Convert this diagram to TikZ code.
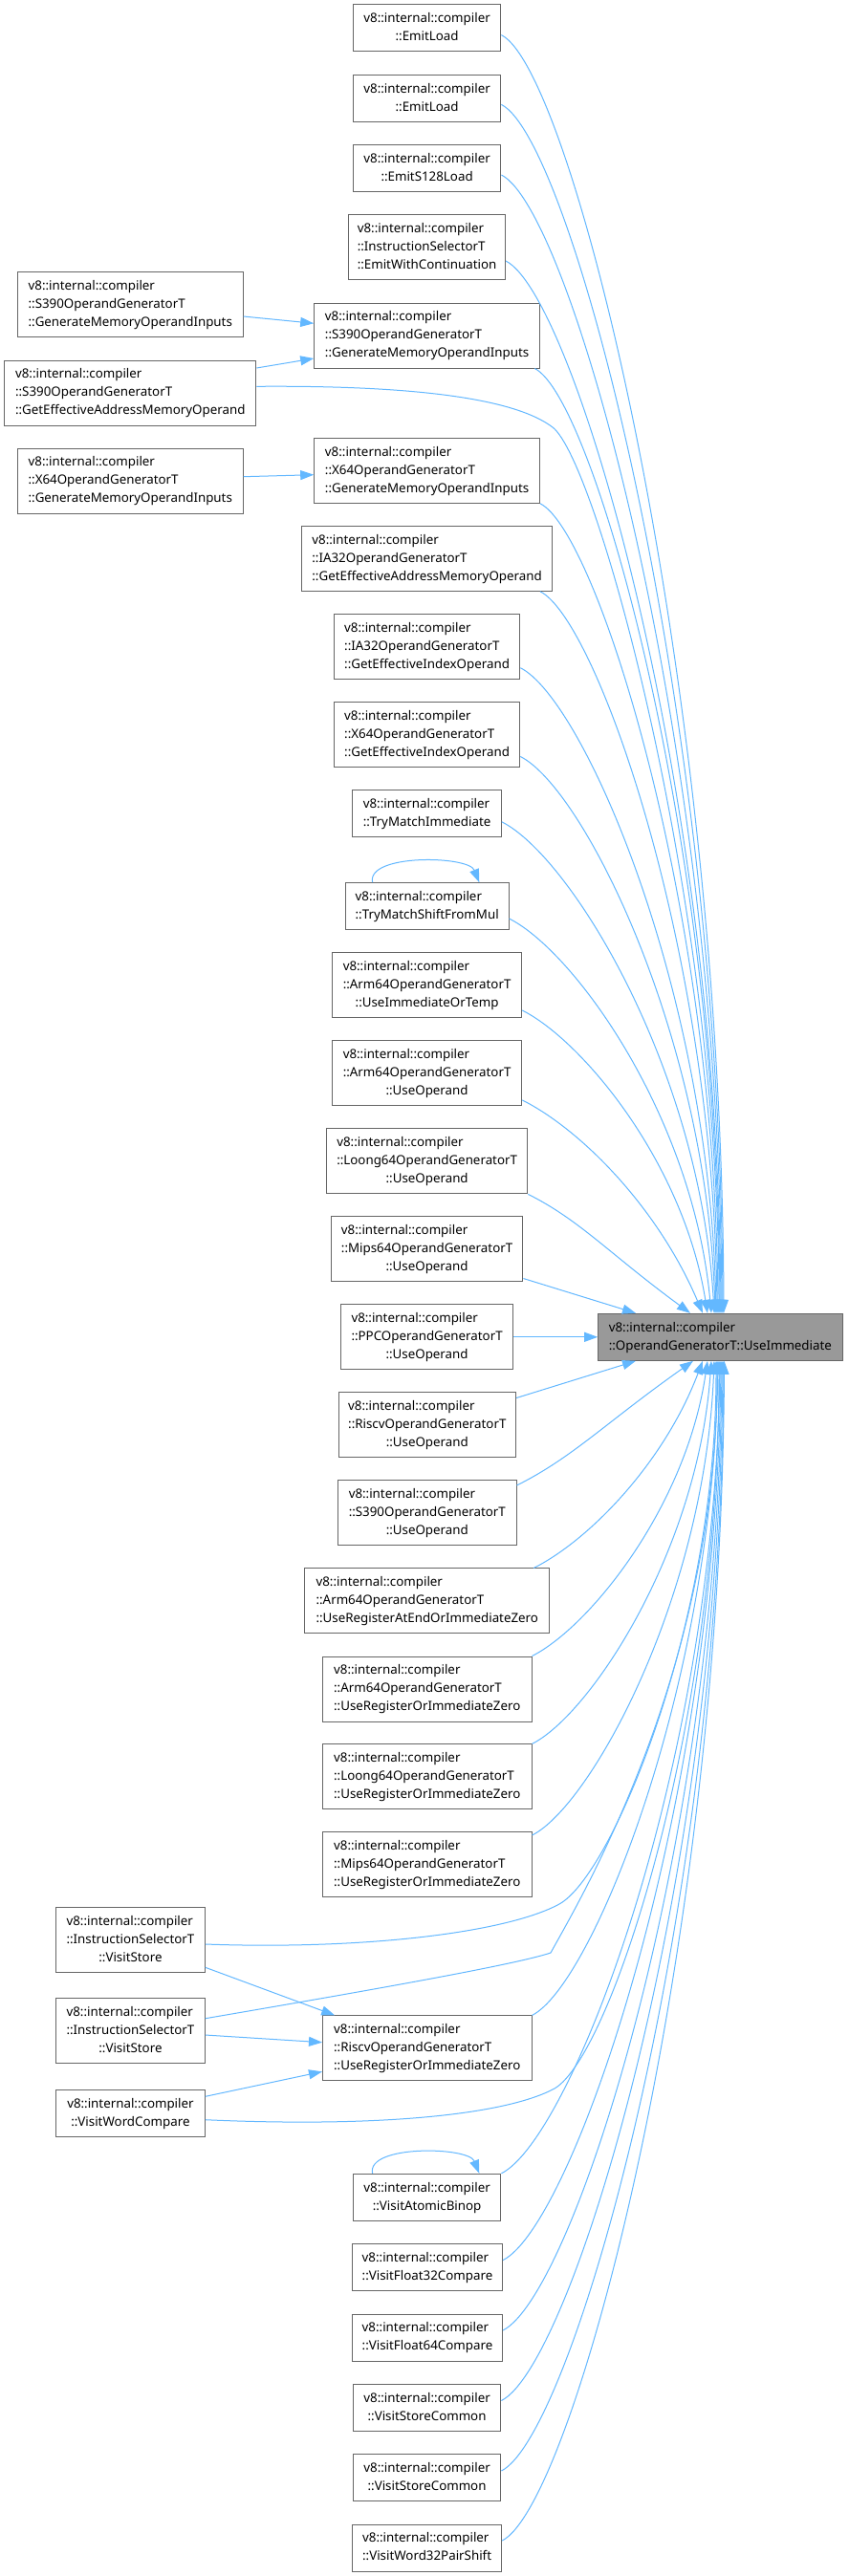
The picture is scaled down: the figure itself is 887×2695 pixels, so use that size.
\documentclass[tikz,border=0pt]{standalone}
\usepackage{fontspec}
\setmainfont{Noto Sans}
\usetikzlibrary{arrows.meta,calc}
\definecolor{boxline}{HTML}{666666}
\definecolor{mainfill}{HTML}{999999}
\definecolor{edgeblue}{HTML}{63B8FF}
\newcommand\lc[1]{\multicolumn{1}{@{}c@{}}{#1}}
\newcommand\lt[1]{\begin{tabular}{@{}l@{}}v8::internal::compiler\\\lc{#1}\end{tabular}}
\newcommand\lth[2]{\begin{tabular}{@{}l@{}}v8::internal::compiler\\#1\\\lc{#2}\end{tabular}}
\newcommand\edT[2]{\draw[edge] let \p1=#1, \p2=#2 in (\p1) .. controls ({\x1+0.32*(\x2-\x1)},{\y1-0.16*(\x2-\x1)}) and ({\x2-min(0.35*(\x2-\x1)*((\x2-\x1)/(\y1-\y2))^2,0.5*(\x2-\x1))},{\y2+0.5*(\y1-\y2)}) .. (\p2);}
\newcommand\edB[2]{\draw[edge] let \p1=#1, \p2=#2 in (\p1) .. controls ({\x1+0.32*(\x2-\x1)},{\y1+0.16*(\x2-\x1)}) and ({\x2-min(0.35*(\x2-\x1)*((\x2-\x1)/(\y2-\y1))^2,0.5*(\x2-\x1))},{\y2-0.5*(\y2-\y1)}) .. (\p2);}
\tikzset{
  box/.style={draw=boxline, fill=white, line width=1pt, inner sep=0pt, font=\fontsize{13.33}{19}\selectfont, anchor=center},
  two/.style={box, minimum height=49pt},
  three/.style={box, minimum height=68pt},
  mainbox/.style={box, fill=mainfill, minimum height=49pt},
  edge/.style={draw=edgeblue, line width=1pt, -{Triangle[length=14pt,width=10pt]}},
}
\begin{document}
\begin{tikzpicture}[x=1pt,y=-1pt]
\fill[white] (0,0) rectangle (887,2695);
\useasboundingbox (0,0) rectangle (887,2695);
% main node
\node[mainbox, minimum width=255.3pt] (M) at (753.35,1398.8) {\lt{::OperandGeneratorT::UseImmediate}};
% callers
\node[two, minimum width=154.6pt] (n1) at (446.6,29.5) {\lt{::EmitLoad}};
\node[two, minimum width=154.6pt] (n2) at (446.6,103) {\lt{::EmitLoad}};
\node[two, minimum width=154.6pt] (n3) at (446.6,176.4) {\lt{::EmitS128Load}};
\node[three, minimum width=163.8pt] (n4) at (446.6,258.9) {\lth{::InstructionSelectorT}{::EmitWithContinuation}};
\node[three, minimum width=235.8pt] (n5) at (446.6,351) {\lth{::S390OperandGeneratorT}{::GenerateMemoryOperandInputs}};
\node[three, minimum width=235.7pt] (n6) at (136.25,318.9) {\lth{::S390OperandGeneratorT}{::GenerateMemoryOperandInputs}};
\node[three, minimum width=263.3pt] (n7) at (136.25,411) {\lth{::S390OperandGeneratorT}{::GetEffectiveAddressMemoryOperand}};
\node[three, minimum width=235.7pt] (n8) at (136.25,503) {\lth{::X64OperandGeneratorT}{::GenerateMemoryOperandInputs}};
\node[three, minimum width=235.8pt] (n9) at (446.6,492.3) {\lth{::X64OperandGeneratorT}{::GenerateMemoryOperandInputs}};
\node[three, minimum width=262.6pt] (n10) at (446.6,584.3) {\lth{::IA32OperandGeneratorT}{::GetEffectiveAddressMemoryOperand}};
\node[three, minimum width=194.4pt] (n11) at (446.6,676.2) {\lth{::IA32OperandGeneratorT}{::GetEffectiveIndexOperand}};
\node[three, minimum width=194.4pt] (n12) at (446.6,768.2) {\lth{::X64OperandGeneratorT}{::GetEffectiveIndexOperand}};
\node[two, minimum width=155.4pt] (n13) at (446.6,850.9) {\lt{::TryMatchImmediate}};
\node[two, minimum width=170.7pt] (n14) at (446.65,948.2) {\lt{::TryMatchShiftFromMul}};
\node[three, minimum width=198.2pt] (n15) at (446.6,1030.9) {\lth{::Arm64OperandGeneratorT}{::UseImmediateOrTemp}};
\node[three, minimum width=198.2pt] (n16) at (446.6,1122.9) {\lth{::Arm64OperandGeneratorT}{::UseOperand}};
\node[three, minimum width=210.5pt] (n17) at (446.65,1214.9) {\lth{::Loong64OperandGeneratorT}{::UseOperand}};
\node[three, minimum width=200.6pt] (n18) at (446.6,1306.9) {\lth{::Mips64OperandGeneratorT}{::UseOperand}};
\node[three, minimum width=179.8pt] (n19) at (446.6,1398.8) {\lth{::PPCOperandGeneratorT}{::UseOperand}};
\node[three, minimum width=185.6pt] (n20) at (446.8,1490.9) {\lth{::RiscvOperandGeneratorT}{::UseOperand}};
\node[three, minimum width=186.4pt] (n21) at (446.8,1582.9) {\lth{::S390OperandGeneratorT}{::UseOperand}};
\node[three, minimum width=256pt] (n22) at (446.8,1674.9) {\lth{::Arm64OperandGeneratorT}{::UseRegisterAtEndOrImmediateZero}};
\node[three, minimum width=218.5pt] (n23) at (446.75,1767) {\lth{::Arm64OperandGeneratorT}{::UseRegisterOrImmediateZero}};
\node[three, minimum width=218.5pt] (n24) at (446.75,1858.9) {\lth{::Loong64OperandGeneratorT}{::UseRegisterOrImmediateZero}};
\node[three, minimum width=218.5pt] (n25) at (446.75,1950.9) {\lth{::Mips64OperandGeneratorT}{::UseRegisterOrImmediateZero}};
\node[three, minimum width=155.7pt] (n26) at (136.45,2029.5) {\lth{::InstructionSelectorT}{::VisitStore}};
\node[three, minimum width=155.7pt] (n27) at (136.45,2124.2) {\lth{::InstructionSelectorT}{::VisitStore}};
\node[three, minimum width=218.5pt] (n28) at (446.75,2142.9) {\lth{::RiscvOperandGeneratorT}{::UseRegisterOrImmediateZero}};
\node[two, minimum width=155.7pt] (n29) at (136.45,2210.7) {\lt{::VisitWordCompare}};
\node[two, minimum width=154.6pt] (n30) at (446.6,2298.8) {\lt{::VisitAtomicBinop}};
\node[two, minimum width=157pt] (n31) at (447,2372.2) {\lt{::VisitFloat32Compare}};
\node[two, minimum width=157pt] (n32) at (447,2445.5) {\lt{::VisitFloat64Compare}};
\node[two, minimum width=154.6pt] (n33) at (446.6,2519) {\lt{::VisitStoreCommon}};
\node[two, minimum width=154.6pt] (n34) at (446.6,2592.4) {\lt{::VisitStoreCommon}};
\node[two, minimum width=156.2pt] (n35) at (446.6,2665.5) {\lt{::VisitWord32PairShift}};
% edges into the main node from above
\edT{(n1.east |- 0,36.6)}{(M.north -| 757,0)}
\edT{(n2.east |- 0,109.4)}{(M.north -| 756,0)}
\edT{(n3.east |- 0,183)}{(M.north -| 755,0)}
\edT{(n4.east |- 0,273)}{(M.north -| 754,0)}
\edT{(n5.south -| 559.3,0)}{(M.north -| 753,0)}
\draw[edge] (n7.east |- 0,404.3) .. controls (440,403) and (540,418) .. (578,447) .. controls (625,483) and (752,950) .. (M.north -| 752,0);
\edT{(n9.south east)}{(M.north -| 751,0)}
\edT{(n10.south -| 565,0)}{(M.north -| 750,0)}
\edT{(n11.east |- 0,698.7)}{(M.north -| 749,0)}
\edT{(n12.east |- 0,791.5)}{(M.north -| 748,0)}
\edT{(n13.east |- 0,859.8)}{(M.north -| 747,0)}
\edT{(n14.east |- 0,961)}{(M.north -| 744,0)}
\edT{(n15.east |- 0,1057)}{(M.north -| 740,0)}
\edT{(n16.east |- 0,1150.9)}{(M.north -| 735,0)}
\edT{(n17.south east)}{(M.north -| 722,0)}
\draw[edge] (n18.east |- 0,1337.5) -- (M.north -| 665,0);
\draw[edge] (n19.east) -- (M.west);
% edges into the main node from below
\draw[edge] (n20.east |- 0,1462.5) -- (M.south -| 665,0);
\edB{(n21.east |- 0,1554)}{(M.south -| 725,0)}
\edB{(n22.north -| 558.3,0)}{(M.south -| 735,0)}
\edB{(n23.north east)}{(M.south -| 740,0)}
\edB{(n24.north east)}{(M.south -| 744,0)}
\edB{(n25.east |- 0,1920)}{(M.south -| 747,0)}
\draw[edge] (n26.east |- 0,2034) .. controls (380,2040) and (530,2022) .. (585,1992) .. controls (640,1962) and (749,1700) .. (M.south -| 749,0);
\draw[edge] (n27.east |- 0,2111.7) .. controls (400,2080) and (540,2055) .. (576,2043) .. controls (606,1988) and (750,1750) .. (M.south -| 750,0);
\edB{(n28.north east)}{(M.south -| 751,0)}
\draw[edge] (n29.east |- 0,2217.7) .. controls (400,2226) and (530,2212) .. (580,2185) .. controls (640,2150) and (752,1800) .. (M.south -| 752,0);
\edB{(n30.north east)}{(M.south -| 753,0)}
\edB{(n31.east |- 0,2364.6)}{(M.south -| 754,0)}
\edB{(n32.east |- 0,2438)}{(M.south -| 755,0)}
\edB{(n33.east |- 0,2511.5)}{(M.south -| 756,0)}
\edB{(n34.east |- 0,2585)}{(M.south -| 757,0)}
\edB{(n35.east |- 0,2658)}{(M.south -| 757.5,0)}
% secondary edges
\draw[edge] (n6.east |- 0,331) -- (n5.west |- 0,338.3);
\draw[edge] (n7.east |- 0,385) -- (n5.west |- 0,375);
\draw[edge] (n8.east |- 0,498.7) -- (n9.west |- 0,496.7);
\draw[edge] (n26.east |- 0,2058.3) -- (n28.north -| 350.2,0);
\draw[edge] (n27.east |- 0,2129) -- (n28.west |- 0,2136.7);
\draw[edge] (n29.east |- 0,2193.3) -- (n28.west |- 0,2167.3);
% self loops
\draw[edge] (n14.north -| 389.6,0) .. controls (383,893) and (490,895) .. (n14.north -| 501.3,0);
\draw[edge] (n30.north -| 389.6,0) .. controls (383,2243.6) and (490,2245.6) .. (n30.north -| 501.3,0);
\end{tikzpicture}
\end{document}
